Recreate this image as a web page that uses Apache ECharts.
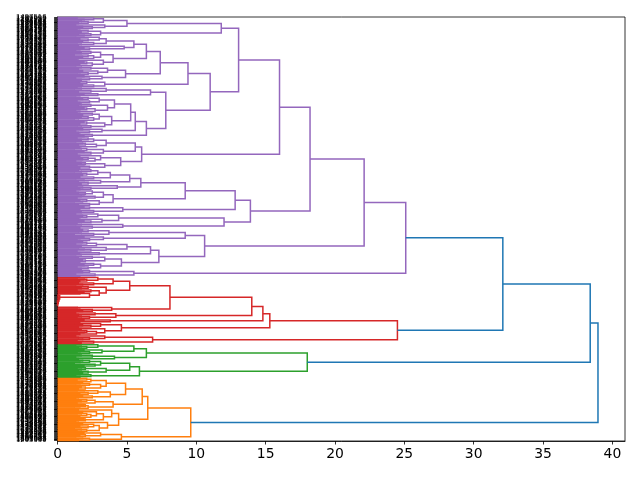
<!DOCTYPE html>
<html>
<head>
<meta charset="utf-8">
<script src="https://cdn.jsdelivr.net/npm/echarts@6/dist/echarts.min.js"></script>
<style>
    html, body { margin: 0; background: #fff; }
    #chart { width: 640px; height: 480px; }
</style>
</head>
<body>
<div id="chart"></div>
<script>
    // merge height between each pair of neighbouring leaf pairs, bottom to top, per cluster
    var orangeGaps = [2.3, 4.6, 2.0, 3.1, 9.6, 2.1, 3.0, 2.2, 2.6, 3.6, 4.4, 2.0, 3.3, 2.4, 2.1, 2.8, 3.9, 6.5,
        2.2, 2.0, 4.0, 2.7, 2.1, 6.1, 2.5, 3.8, 2.2, 2.9, 4.9, 2.0, 3.1, 2.3, 3.5, 2.4, 2.1];
    var greenGaps = [2.4, 5.9, 2.2, 3.5, 2.0, 5.2, 2.7, 3.1, 2.3, 18.0, 4.1, 2.5, 6.4, 2.3, 3.2, 5.5, 2.1, 2.9];
    var redGaps = [2.6, 6.85, 2.3, 3.4, 24.5, 2.8, 2.1, 3.4, 4.6, 2.4, 3.1, 15.3, 3.8, 14.8, 2.3, 4.2, 2.7, 14.0,
        2.5, 3.9, 8.1, 0, 0, 0, 0.05, 0.1, 0.15, 2.3, 3.0, 2.4, 3.5, 2.2, 5.2, 2.6, 4.0, 2.1, 2.9];
    var purpleGaps = [2.7, 5.5, 2.3, 25.1,
        2.2, 3.1, 2.6, 4.6, 2.0, 3.4, 2.5, 7.3, 3.0, 6.7, 2.4, 3.5, 5.0, 2.8, 2.1, 10.6,
        2.3, 3.3, 9.2, 2.6, 3.7, 2.2, 22.1,
        2.5, 4.7, 12.0, 2.4, 3.2, 4.4, 2.1, 2.9, 13.9,
        2.6, 4.7, 2.3, 12.8, 2.3, 3.0, 2.1, 4.0, 2.7, 3.3, 2.0, 2.5, 9.2,
        2.4, 4.3, 6.0, 2.2, 3.1, 5.2, 2.6, 3.8, 2.1, 2.9, 2.4, 18.2,
        2.3, 3.4, 2.0, 4.55, 2.7, 2.2, 3.1, 6.06, 2.4, 3.3, 2.1, 5.6, 2.8, 2.0, 3.5, 2.6, 2.2, 16.0,
        2.5, 6.4, 2.3, 3.2, 5.6, 2.4, 3.4, 2.1, 3.9, 2.6, 2.2, 3.0, 2.5, 5.27,
        2.7, 2.1, 3.6, 2.4, 4.1, 2.3, 3.0, 2.2, 7.8, 2.9, 6.7, 2.4, 3.5, 11.0,
        2.6, 3.4, 2.1, 9.4, 2.3, 3.2, 4.9, 2.2, 2.9, 3.6, 2.4, 7.4,
        2.5, 2.1, 3.3, 4.0, 2.6, 2.2, 3.1, 2.4, 6.4, 2.3, 4.8, 5.5, 2.6, 3.5, 2.2, 3.0, 13.05,
        2.4, 3.1, 2.2, 11.8, 2.5, 3.4, 5.0, 2.2, 3.3, 2.6];
    // merge height inside each leaf pair (the dense block next to the axis)
    var orangePairs = [1.5, 1.8, 1.3, 1.6, 1.9, 1.4, 1.7, 1.2, 1.6, 1.8, 1.5, 1.3, 1.9, 1.6, 1.4, 1.7, 1.8, 1.5,
        1.2, 1.6, 1.9, 1.4, 1.7, 1.5, 1.3, 1.8, 1.6, 1.4, 1.9, 1.5, 1.7, 1.3, 1.6, 1.8, 1.4, 1.6];
    var greenPairs = [1.6, 1.3, 1.8, 1.5, 1.7, 1.4, 1.9, 1.2, 1.6, 1.8, 1.5, 1.3, 1.7, 1.6, 1.4, 1.9, 1.5, 1.7, 1.3];
    var redPairs = [1.7, 1.4, 1.8, 1.5, 1.3, 1.6, 1.9, 1.4, 1.7, 1.5, 1.8, 1.2, 1.6, 1.9, 1.4, 1.7, 1.5, 1.3,
        1.8, 1.6, 1.4, 0, 0, 0, 0, 0.02, 0.02, 0.02, 1.6, 1.9, 1.4, 1.7, 1.3, 1.8, 1.5, 1.6, 1.9, 1.4];
    var purplePairs = [1.6, 1.3, 1.8, 1.5, 1.7, 1.4, 1.9, 1.2, 1.6, 1.8,
        1.5, 1.3, 1.7, 1.6, 1.4, 1.9, 1.5, 1.7, 1.3, 1.8,
        1.6, 1.4, 1.9, 1.2, 1.7, 1.5, 1.8, 1.6, 1.3, 1.7,
        1.4, 1.9, 1.5, 1.6, 1.8, 1.3, 1.7, 1.4, 1.6, 1.9,
        1.5, 1.2, 1.8, 1.6, 1.4, 1.7, 1.9, 1.5, 1.3, 1.6,
        1.8, 1.4, 1.7, 1.5, 1.9, 1.3, 1.6, 1.8, 1.2, 1.7,
        1.5, 1.6, 1.4, 1.9, 1.7, 1.3, 1.8, 1.5, 1.6, 1.4,
        1.9, 1.2, 1.7, 1.6, 1.5, 1.8, 1.3, 1.7, 1.4, 1.9,
        1.6, 1.5, 1.3, 1.8, 1.7, 1.4, 1.6, 1.9, 1.5, 1.2,
        1.7, 1.8, 1.4, 1.6, 1.3, 1.9, 1.5, 1.7, 1.6, 1.4,
        1.8, 1.3, 1.6, 1.9, 1.5, 1.2, 1.7, 1.4, 1.8, 1.6,
        1.5, 1.7, 1.3, 1.9, 1.6, 1.4, 1.8, 1.5, 1.7, 1.3,
        1.6, 1.9, 1.4, 1.5, 1.8, 1.2, 1.7, 1.6, 1.3, 1.9,
        1.5, 1.7, 1.4, 1.8, 1.6, 1.3, 1.9, 1.5, 1.7, 1.4,
        1.6, 1.8, 1.3, 1.5, 1.7, 1.9, 1.4];
    // heights where the clusters meet: orange|green, green|red, red|purple
    var joinGaps = [38.96, 38.4, 32.1];
    var clusterColors = ['#ff7f0e', '#2ca02c', '#d62728', '#9467bd'];
    var aboveColor = '#1f77b4';
    var xTicks = [0, 5, 10, 15, 20, 25, 30, 35, 40];

    var clusterGaps = [orangeGaps, greenGaps, redGaps, purpleGaps];
    var clusterPairs = [orangePairs, greenPairs, redPairs, purplePairs];
    var gaps = [];
    var leafCluster = [];
    clusterGaps.forEach(function (g, ci) {
        var p = clusterPairs[ci];
        for (var k = 0; k < p.length; k++) {
            leafCluster.push(ci, ci);
            gaps.push(p[k]);
            if (k < g.length) gaps.push(g[k]);
        }
        if (ci < joinGaps.length) gaps.push(joinGaps[ci]);
    });
    var nLeaves = gaps.length + 1;

    // leaf ids are not readable in the picture (only a black block); use mixed ids
    var leafLabels = [];
    for (var i = 0; i < nLeaves; i++) leafLabels.push(String(1000000 + ((i * 337 + 101) % nLeaves) * 2039));

    var maxH = Math.max.apply(null, gaps);
    var threshold = 0.7 * maxH;
    var links = [];

    // split a leaf range at its largest neighbour gap -> one U link per merge
    function build(lo, hi) {
        if (lo === hi) return {h: 0, y: 10 * lo + 5};
        var mid = (lo + hi - 1) / 2;
        var best = lo;
        for (var k = lo; k < hi; k++) {
            if (gaps[k] > gaps[best] || (gaps[k] === gaps[best] && Math.abs(k - mid) < Math.abs(best - mid))) best = k;
        }
        var a = build(lo, best);
        var b = build(best + 1, hi);
        var h = gaps[best];
        links.push([a.h, a.y, h, b.y, b.h, h < threshold ? leafCluster[lo] : -1]);
        return {h: h, y: (a.y + b.y) / 2};
    }
    build(0, nLeaves - 1);

    var chart = echarts.init(document.getElementById('chart'));
    var option = {
        animation: false,
        backgroundColor: '#fff',
        grid: {
            left: 57.6, right: 15, top: 17, bottom: 39,
            show: true, borderColor: '#000', borderWidth: 0.8
        },
        xAxis: {
            type: 'value',
            min: 0,
            max: maxH * 1.05,
            splitLine: {show: false},
            axisLine: {show: true, lineStyle: {color: '#000', width: 0.8}},
            axisTick: {show: true, length: 3.5, lineStyle: {color: '#000', width: 0.8}, customValues: xTicks},
            axisLabel: {
                customValues: xTicks, color: '#000', fontSize: 13.9,
                fontFamily: 'DejaVu Sans', margin: 6
            }
        },
        yAxis: [
            {
                type: 'category',
                data: leafLabels,
                boundaryGap: true,
                axisLine: {show: true, lineStyle: {color: '#000', width: 0.8}},
                axisTick: {show: true, alignWithLabel: true, interval: 0, length: 3.5,
                    lineStyle: {color: '#000', width: 0.8}},
                axisLabel: {interval: 0, color: '#000', fontSize: 6.9, fontFamily: 'DejaVu Sans', margin: 11},
                splitLine: {show: false}
            },
            {
                type: 'value', min: 0, max: 10 * nLeaves, show: false
            }
        ],
        series: [
            {
                type: 'custom',
                xAxisIndex: 0,
                yAxisIndex: 1,
                data: links,
                encode: {x: [0, 2, 4], y: [1, 3]},
                renderItem: function (params, api) {
                    var y1 = api.value(1), h = api.value(2), y2 = api.value(3);
                    var c = api.value(5);
                    return {
                        type: 'polyline',
                        silent: true,
                        shape: {
                            points: [
                                api.coord([api.value(0), y1]),
                                api.coord([h, y1]),
                                api.coord([h, y2]),
                                api.coord([api.value(4), y2])
                            ]
                        },
                        style: {fill: 'none', stroke: c < 0 ? aboveColor : clusterColors[c], lineWidth: 1.5}
                    };
                }
            }
        ]
    };
    chart.setOption(option);
</script>
</body>
</html>
